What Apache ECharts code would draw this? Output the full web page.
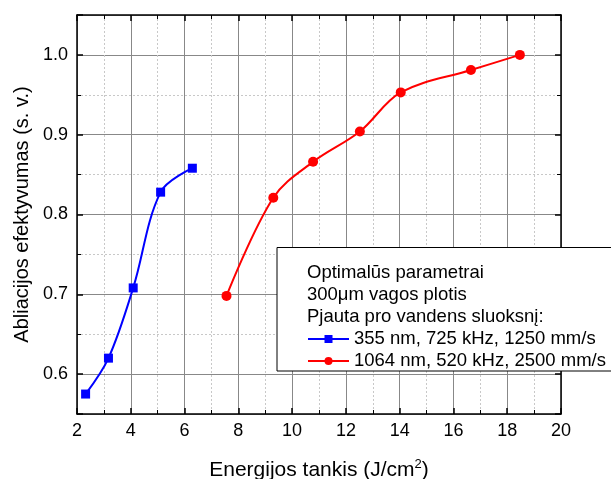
<!DOCTYPE html>
<html>
<head>
<meta charset="utf-8">
<script src="https://cdn.jsdelivr.net/npm/echarts@6/dist/echarts.min.js"></script>
<style>
  html, body { margin: 0; padding: 0; background: #fff; }
  #chart { width: 611px; height: 479px; }
</style>
</head>
<body>
<div id="chart"></div>
<script>
// blue: 355 nm series
const blueX = [2.32, 3.17, 4.09, 5.11, 6.29];
const blueY = [0.575, 0.62, 0.708, 0.828, 0.858];
// red: 1064 nm series
const redX = [7.56, 9.3, 10.78, 12.52, 14.04, 16.65, 18.47];
const redY = [0.698, 0.821, 0.866, 0.904, 0.953, 0.981, 1.0];

const seriesNames = ["355 nm, 725 kHz, 1250 mm/s", "1064 nm, 520 kHz, 2500 mm/s"];
const headerLines = ["Optimalūs parametrai", "300μm vagos plotis", "Pjauta pro vandens sluoksnį:"];

const xTitle = "Energijos tankis (J/cm{sup|2})";
const yTitle = "Abliacijos efektyvumas (s. v.)";

document.addEventListener("DOMContentLoaded", function () {
  const font = "Liberation Sans, Arial, sans-serif";
  let chart = echarts.init(document.getElementById("chart"));

  function pairs(xs, ys) {
    return xs.map((x, i) => [x, ys[i]]);
  }

  const axisLine = { show: true, onZero: false, lineStyle: { color: "#000", width: 1.5 } };
  const tick = { show: true, inside: true, length: 6, lineStyle: { color: "#000", width: 1.5 } };
  const minorTick = { show: true, splitNumber: 2, length: 4, lineStyle: { color: "#000", width: 1 } };
  const major = { show: true, lineStyle: { color: "#888", width: 1 } };
  const minor = { show: true, lineStyle: { color: "#c8c8c8", type: [2, 2], width: 1 } };

  // legend box with its header lines
  let graphics = [
    {
      type: "rect",
      z: 3,
      shape: { x: 277, y: 247.5, width: 400, height: 123.5 },
      style: { fill: "#fff", stroke: "#000", lineWidth: 1 },
    },
  ];
  headerLines.forEach((t, i) => {
    graphics.push({
      type: "text",
      z: 5,
      style: {
        text: t,
        x: 307,
        y: 273 + i * 22,
        verticalAlign: "middle",
        font: "18.5px " + font,
        fill: "#000",
      },
    });
  });

  let option = {
    animation: false,
    textStyle: { fontFamily: font },
    grid: { left: 77, right: 50, top: 15, bottom: 65, outerBoundsMode: "none", containLabel: false },
    graphic: graphics,
    legend: {
      orient: "vertical",
      left: 307,
      top: 329,
      padding: 0,
      itemWidth: 41,
      itemHeight: 10,
      itemGap: 2,
      z: 6,
      textStyle: { fontSize: 18.5, lineHeight: 20, color: "#000", fontFamily: font },
      data: seriesNames,
    },
    xAxis: [
      {
        type: "value",
        min: 2,
        max: 20,
        interval: 2,
        name: xTitle,
        nameLocation: "middle",
        nameGap: 44,
        nameTextStyle: {
          fontSize: 21,
          lineHeight: 24,
          color: "#000",
          fontFamily: font,
          rich: { sup: { fontSize: 13, lineHeight: 13, verticalAlign: "top", color: "#000", fontFamily: font } },
        },
        axisLine: axisLine,
        axisTick: tick,
        minorTick: minorTick,
        splitLine: major,
        minorSplitLine: minor,
        axisLabel: { fontSize: 18, color: "#000", margin: 8, fontFamily: font },
      },
      {
        type: "value",
        position: "top",
        min: 2,
        max: 20,
        interval: 2,
        axisLine: axisLine,
        axisTick: tick,
        minorTick: minorTick,
        splitLine: { show: false },
        axisLabel: { show: false },
      },
    ],
    yAxis: [
      {
        type: "value",
        min: 0.55,
        max: 1.05,
        splitNumber: 5,
        name: yTitle,
        nameLocation: "middle",
        nameGap: 45,
        nameTextStyle: { fontSize: 20, color: "#000", fontFamily: font },
        axisLine: axisLine,
        axisTick: tick,
        minorTick: minorTick,
        splitLine: major,
        minorSplitLine: minor,
        axisLabel: {
          fontSize: 18,
          color: "#000",
          margin: 9,
          fontFamily: font,
          showMinLabel: false,
          showMaxLabel: false,
          formatter: (v) => v.toFixed(1),
        },
      },
      {
        type: "value",
        position: "right",
        min: 0.55,
        max: 1.05,
        splitNumber: 5,
        axisLine: axisLine,
        axisTick: tick,
        minorTick: minorTick,
        splitLine: { show: false },
        axisLabel: { show: false },
      },
    ],
    series: [
      {
        name: seriesNames[0],
        type: "line",
        smooth: 0.35,
        symbol: "rect",
        symbolSize: 9,
        z: 4,
        itemStyle: { color: "#0000ff" },
        lineStyle: { color: "#0000ff", width: 2 },
        data: pairs(blueX, blueY),
      },
      {
        name: seriesNames[1],
        type: "line",
        smooth: 0.35,
        symbol: "circle",
        symbolSize: 10,
        z: 4,
        itemStyle: { color: "#ff0000" },
        lineStyle: { color: "#ff0000", width: 2 },
        data: pairs(redX, redY),
      },
    ],
  };
  option && chart.setOption(option);
});
</script>
</body>
</html>
